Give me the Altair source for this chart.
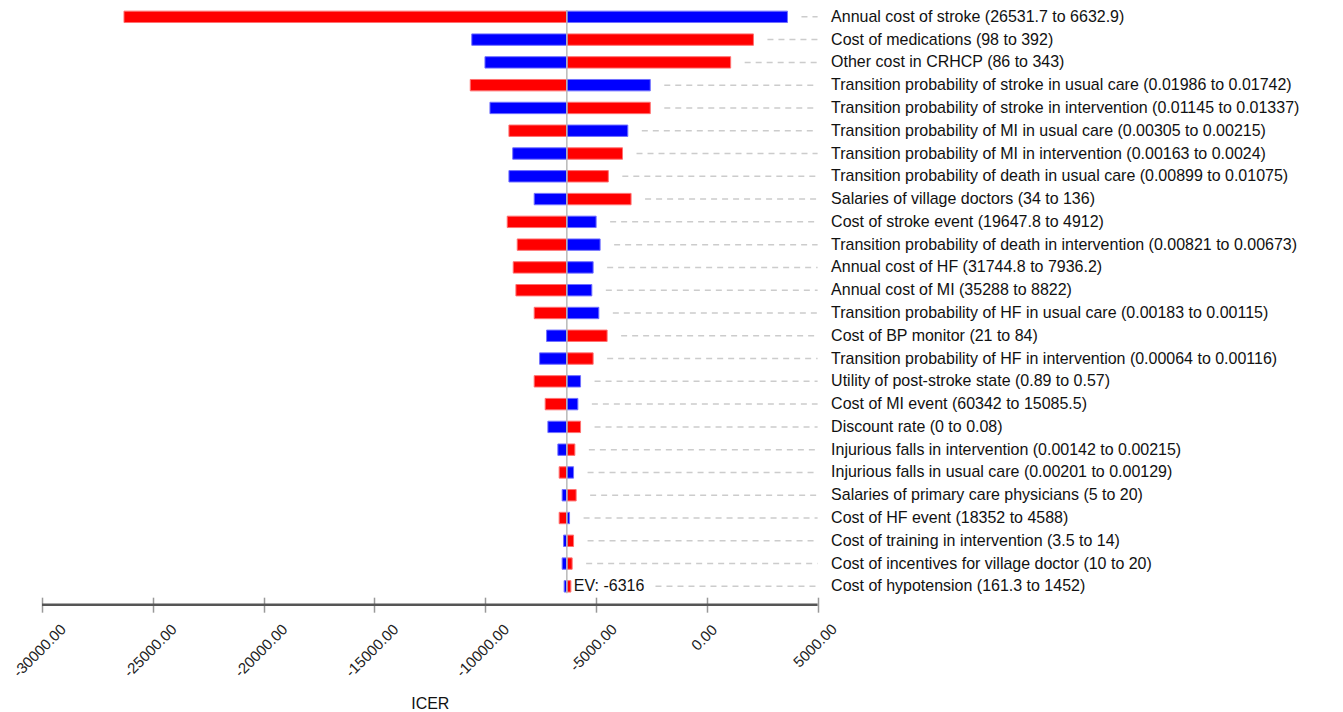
import altair as alt
import pandas as pd

FONT = "Liberation Sans"

params = [
    "Annual cost of stroke (26531.7 to 6632.9)",
    "Cost of medications (98 to 392)",
    "Other cost in CRHCP (86 to 343)",
    "Transition probability of stroke in usual care (0.01986 to 0.01742)",
    "Transition probability of stroke in intervention (0.01145 to 0.01337)",
    "Transition probability of MI in usual care (0.00305 to 0.00215)",
    "Transition probability of MI in intervention (0.00163 to 0.0024)",
    "Transition probability of death in usual care (0.00899 to 0.01075)",
    "Salaries of village doctors (34 to 136)",
    "Cost of stroke event (19647.8 to 4912)",
    "Transition probability of death in intervention (0.00821 to 0.00673)",
    "Annual cost of HF (31744.8 to 7936.2)",
    "Annual cost of MI (35288 to 8822)",
    "Transition probability of HF in usual care (0.00183 to 0.00115)",
    "Cost of BP monitor (21 to 84)",
    "Transition probability of HF in intervention (0.00064 to 0.00116)",
    "Utility of post-stroke state (0.89 to 0.57)",
    "Cost of MI event (60342 to 15085.5)",
    "Discount rate (0 to 0.08)",
    "Injurious falls in intervention (0.00142 to 0.00215)",
    "Injurious falls in usual care (0.00201 to 0.00129)",
    "Salaries of primary care physicians (5 to 20)",
    "Cost of HF event (18352 to 4588)",
    "Cost of training in intervention (3.5 to 14)",
    "Cost of incentives for village doctor (10 to 20)",
    "Cost of hypotension (161.3 to 1452)",
]

red_end = [-26300, 2105, 1077, -10674, -2551, -8929, -3804, -4444, -3417, -9006,
           -8555, -8735, -8614, -7789, -4498, -5129, -7789, -7293, -5697, -5954,
           -6662, -5896, -6662, -6013, -6076, -6135]
blue_end = [3640, -10606, -10011, -2551, -9786, -3565, -8758, -8929, -7789, -4994,
            -4814, -5129, -5188, -4872, -7230, -7545, -5697, -5819, -7171, -6721,
            -6013, -6527, -6193, -6464, -6527, -6437]

ev = -6316
ev_label = "EV: -6316"
x_min, x_max = -30000, 5000
x_ticks = [-30000, -25000, -20000, -15000, -10000, -5000, 0, 5000]

gap = 632          # gap (data units) between a bar end and its leader line
ev_label_room = 4000  # room left for the EV label on the last row

rows = []
for p, r, b in zip(params, red_end, blue_end):
    rows.append({"param": p, "series": "red", "end": r, "ev": ev})
    rows.append({"param": p, "series": "blue", "end": b, "ev": ev})
bars_df = pd.DataFrame(rows)

starts = [max(r, b) + gap for r, b in zip(red_end, blue_end)]
starts[-1] = ev + ev_label_room
dash_df = pd.DataFrame({"param": params, "start": starts, "stop": [x_max] * len(params)})
ev_df = pd.DataFrame({"param": [params[-1]], "ev": [ev], "label": [ev_label]})

x_scale = alt.Scale(domain=[x_min, x_max], nice=False, zero=False)
x_axis = alt.Axis(
    values=x_ticks,
    labelExpr="replace(format(datum.value, '.2f'), '\u2212', '-')",
    labelAngle=-45,
    labelAlign="center",
    labelBaseline="middle",
    labelOffset=-3,
    labelPadding={"condition": [
        {"test": "datum.value == 0", "value": 25},
        {"test": "datum.value == 5000", "value": 33},
        {"test": "datum.value == -5000", "value": 35},
    ], "value": 38},
    labelFontSize=15,
    labelFont=FONT,
    labelColor="#222222",
    domain=False,
    tickSize=15,
    tickColor="#999999",
    tickWidth=1.5,
    offset=4,
    grid=False,
    title="ICER",
    titleFont=FONT,
    titleFontSize=16,
    titleFontWeight="normal",
    titleColor="#111111",
    titlePadding=16,
)
y_enc = alt.Y(
    "param:N",
    sort=params,
    scale=alt.Scale(paddingInner=0.5, paddingOuter=0.05),
    axis=alt.Axis(
        orient="right",
        title=None,
        ticks=False,
        tickSize=0,
        domain=False,
        grid=False,
        labelPadding=13,
        labelLimit=0,
        labelFont=FONT,
        labelFontSize=16,
        labelColor="#111111",
    ),
)

bars = alt.Chart(bars_df).mark_bar(strokeWidth=1).encode(
    x=alt.X("end:Q", scale=x_scale, axis=x_axis),
    x2="ev:Q",
    y=y_enc,
    color=alt.Color("series:N", scale=alt.Scale(domain=["red", "blue"], range=["#ff0000", "#0000ff"]), legend=None),
    stroke=alt.Stroke("series:N", scale=alt.Scale(domain=["red", "blue"], range=["#ff7070", "#7070ff"]), legend=None),
)

dashes = alt.Chart(dash_df).mark_rule(color="#cccccc", strokeWidth=1.5, strokeDash=[6, 5]).encode(
    x=alt.X("start:Q", scale=x_scale, axis=x_axis),
    x2="stop:Q",
    y=y_enc,
)

ev_line = alt.Chart(ev_df).mark_rule(color="#b8b8b8", strokeWidth=1.5).encode(
    x=alt.X("ev:Q", scale=x_scale, axis=x_axis),
)

ev_text = alt.Chart(ev_df).mark_text(align="left", baseline="middle", dx=7, font=FONT, fontSize=16, color="#111111").encode(
    x=alt.X("ev:Q", scale=x_scale, axis=x_axis),
    y=y_enc,
    text="label:N",
)

axis_df = pd.DataFrame({"a": [x_min], "b": [x_max]})
axis_line = alt.Chart(axis_df).mark_rule(color="#555555", strokeWidth=2.5).encode(
    x=alt.X("a:Q", scale=x_scale, axis=x_axis),
    x2="b:Q",
    y=alt.value(594.7),
)

chart = alt.layer(dashes, bars, ev_line, ev_text, axis_line).properties(
    width=775.6,
    height=583.2,
    padding={"left": 2, "top": 0, "right": 5, "bottom": 5},
    background="white",
).configure_view(stroke=None)

chart.save("out.html", embed_options={"renderer": "svg", "actions": False})
